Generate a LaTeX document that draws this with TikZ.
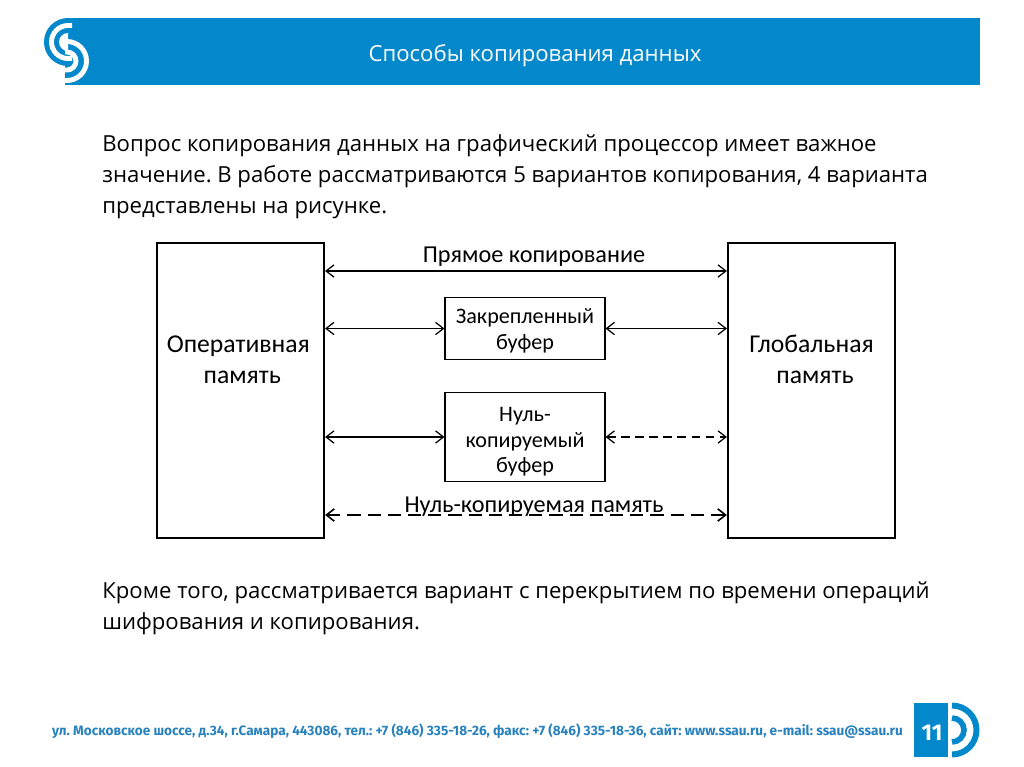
\documentclass[tikz,border=0pt]{standalone}
\usepackage{fontspec}
\setmainfont{Open Sans}
\newfontfamily\boxfont{Carlito}
\newfontfamily\footfont{Fira Sans}
\usetikzlibrary{arrows.meta, positioning, calc}
\definecolor{headblue}{RGB}{3,136,204}
\definecolor{footblue}{RGB}{40,130,190}
\frenchspacing
\tikzset{
  membox/.style={draw, line width=1.3pt, minimum width=95pt, minimum height=168pt, align=center, font=\boxfont\fontsize{14.6}{17.6}\selectfont},
  bufbox/.style={draw, line width=0.7pt, minimum width=91pt, inner sep=0, align=center, font=\boxfont\fontsize{12.6}{14.6}\selectfont},
  link/.style={line width=0.7pt, {Straight Barb[length=4.5pt,width=7pt]}-{Straight Barb[length=4.5pt,width=7pt]}},
  dlink/.style={link, dash pattern=on 5pt off 3pt},
  longdlink/.style={link, line width=0.9pt, dash pattern=on 7.5pt off 4pt},
  lbl/.style={font=\boxfont\fontsize{13.8}{15}\selectfont, inner sep=0},
  para/.style={anchor=north west, inner sep=0, align=left, font=\fontsize{12.6}{17.7}\selectfont}
}
\begin{document}
\begin{tikzpicture}[x=0.02cm, y=-0.02cm]
\useasboundingbox (0,0) rectangle (1024,767);

% --- Header ---
\fill[headblue] (65,18) rectangle (980,85);
\node[white, inner sep=0, font=\fontsize{12.6}{14}\selectfont] (title) at (535,56) {Способы копирования данных};
% logo: upper half on white, lower half on blue
\fill[headblue] (68,18) arc (-90:-270:24) -- cycle;
\draw[white, line width=2.8pt] (72,25.5) -- (68,25.5) arc (-90:-270:16.5) -- (72,58.5);
\fill[white] (68,33) arc (-90:-270:9) -- cycle;
\draw[white, line width=2.8pt] (65,41.5) -- (67,41.5) arc (-90:90:19.5) -- (65,80.5);
\draw[white, line width=2.8pt] (65,52) -- (67,52) arc (-90:90:9) -- (65,70);

% --- Text ---
\node[para] (intro) at (102,134) {Вопрос копирования данных на графический процессор имеет важное\\значение. В работе рассматриваются 5 вариантов копирования, 4 варианта\\представлены на рисунке.};
\node[para] (outro) at (102,581) {Кроме того, рассматривается вариант с перекрытием по времени операций\\шифрования и копирования.};

% --- Memory boxes ---
\node[membox] (ram) at (240.5,390.5) {\hspace*{-2.5pt}Оперативная\\\hspace*{2pt}память\\\mbox{}\\\mbox{}};
\node[membox] (global) at (811.5,390.5) {Глобальная\\\hspace*{4pt}память\\\mbox{}\\\mbox{}};

% --- Buffers ---
\node[bufbox, minimum height=35pt] (pinned) at (525,328.5) {\rule{0pt}{11.5pt}Закрепленный\\буфер};
\node[bufbox, minimum height=51pt] (nullbuf) at (525,437) {\rule{0pt}{13.5pt}Нуль-\\копируемый\\буфер};

% --- Links ---
\draw[link] (ram.east |- 0,271) -- (global.west |- 0,271);
\node[lbl] (direct) at (534,257) {Прямое копирование};
\draw[link] (ram.east |- pinned.west) -- (pinned.west);
\draw[link] (pinned.east) -- (global.west |- pinned.east);
\draw[link] (ram.east |- nullbuf.west) -- (nullbuf.west);
\draw[dlink] (nullbuf.east) -- (global.west |- nullbuf.east);
\draw[longdlink] (ram.east |- 0,515) -- (global.west |- 0,515);
\node[lbl] (nullmem) at (534,507) {Нуль-копируемая память};

% --- Footer ---
\node[footblue, inner sep=0, font=\footfont\bfseries\fontsize{7.75}{9}\selectfont] (addr) at (477.5,731) {ул. Московское шоссе, д.34, г.Самара, 443086, тел.: +7 (846) 335-18-26, факс: +7 (846) 335-18-36, сайт: www.ssau.ru, e-mail: ssau@ssau.ru};
\node[fill=headblue, minimum width=19.3pt, minimum height=30.7pt, inner sep=0] (page) at (931,730) {};
\node[white, inner sep=0, font=\footfont\bfseries\fontsize{13}{14}\selectfont] (pagenum) at (932,733) {11};
\draw[headblue, line width=3.4pt] (952,705.5) arc (-90:90:24.5);
\draw[headblue, line width=3.2pt] (952,718) arc (-90:90:12);
\end{tikzpicture}
\end{document}
